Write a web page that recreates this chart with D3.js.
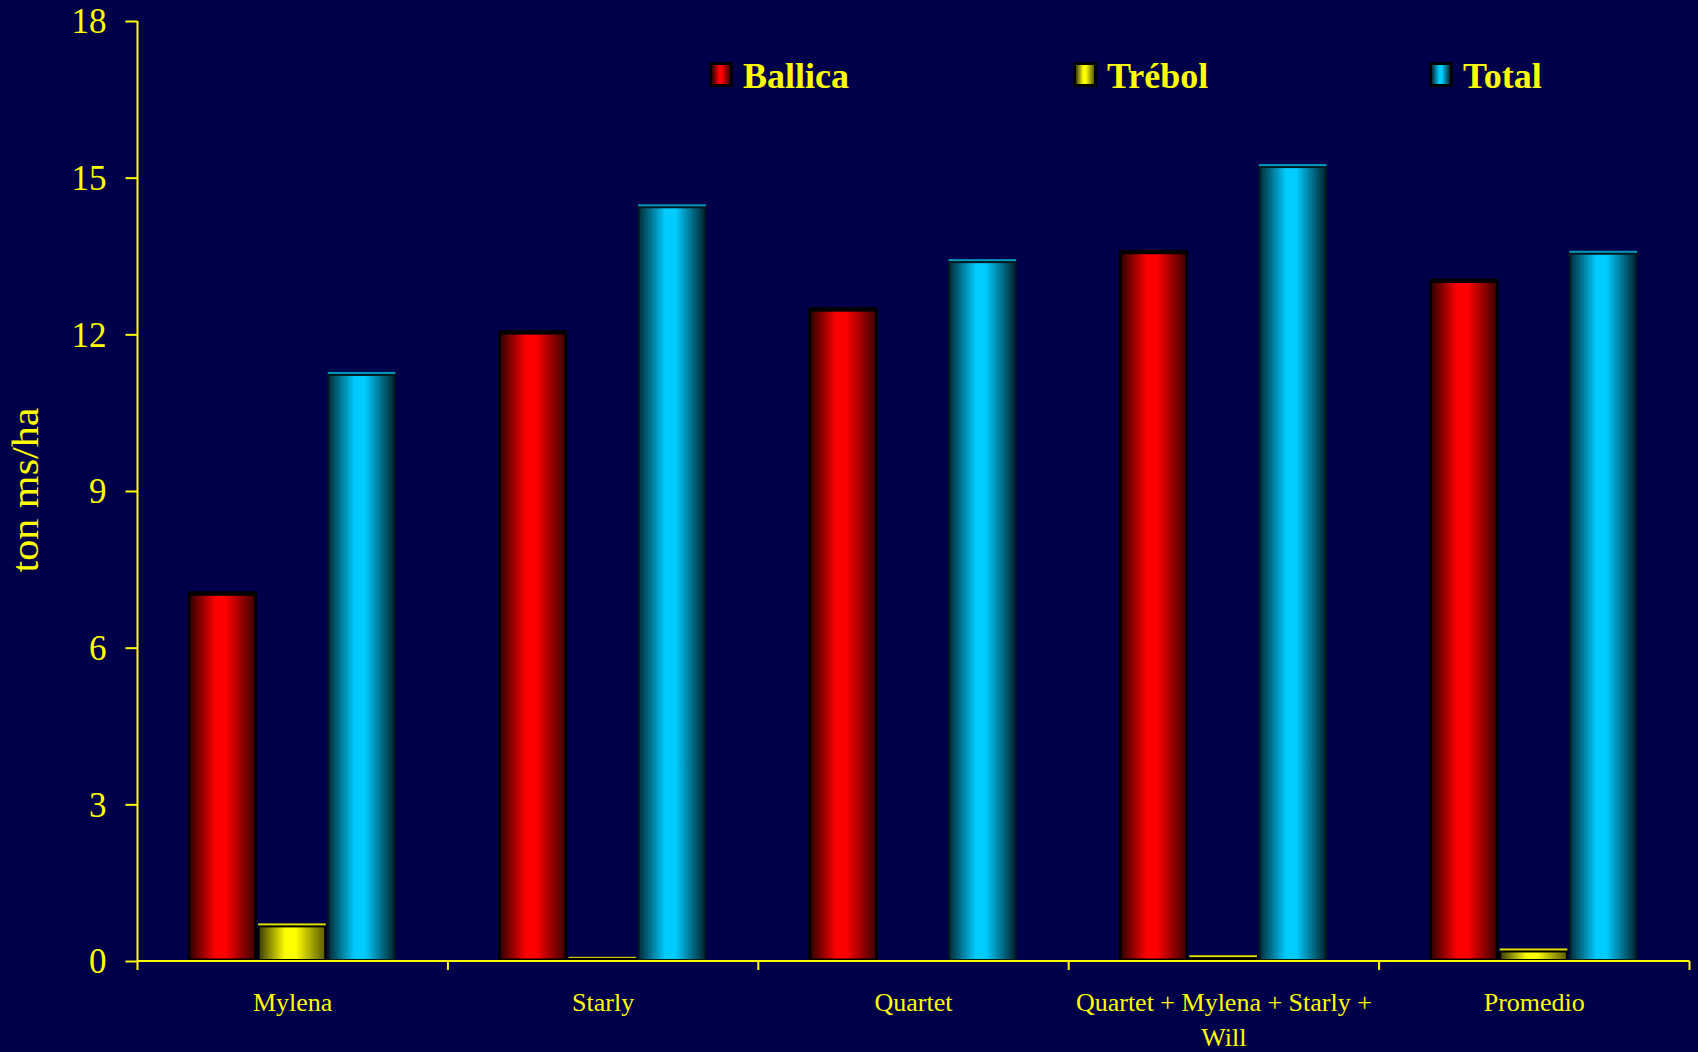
<!DOCTYPE html>
<html>
<head>
<meta charset="utf-8">
<script src="https://cdn.jsdelivr.net/npm/d3@7/dist/d3.min.js"></script>
<style>
  html, body { margin: 0; padding: 0; background: #00004a; }
  svg { display: block; }
  text { font-family: "Liberation Serif", "Times New Roman", serif; fill: #ffff00; }
</style>
</head>
<body>
<svg id="chart" width="1698" height="1052"></svg>
<script>
// ---- data ----
const categories = ["Mylena", "Starly", "Quartet", "Quartet + Mylena + Starly + Will", "Promedio"];
const seriesNames = ["Ballica", "Trébol", "Total"];
const ballica = [7.08, 12.08, 12.52, 13.62, 13.07];
const trebol  = [0.72, 0.08, 0.0, 0.11, 0.24];
const total   = [11.28, 14.49, 13.44, 15.26, 13.60];
const yTicks = [0, 3, 6, 9, 12, 15, 18];
const yLabel = "ton ms/ha";

const seriesValues = [ballica, trebol, total];
const palette = {
  "Ballica": { edgeL: "#2a0000", mid: "#ff0000", edgeR: "#3a0000", top: "#000000", stroke: "#000000" },
  "Trébol":  { edgeL: "#3a3a00", mid: "#ffff00", edgeR: "#5a5a00", top: "#e0e000", stroke: "#000000" },
  "Total":   { edgeL: "#002a38", mid: "#00ccff", edgeR: "#00222c", top: "#0099bb", stroke: "#001820" }
};

const svg = d3.select("#chart");
const W = 1698, H = 1052;
const margin = { left: 137.5, right: 8.5, top: 21, bottom: 91 };
const x0 = d3.scaleBand().domain(categories).range([margin.left, W - margin.right]).paddingInner(0).paddingOuter(0);
const bw = x0.bandwidth();
const x1 = d3.scaleBand().domain(seriesNames).range([bw * 0.161, bw * 0.834]).padding(0);
const y = d3.scaleLinear().domain([0, 18]).range([H - margin.bottom, margin.top]);

// gradients
const defs = svg.append("defs");
seriesNames.forEach((s, i) => {
  const p = palette[s];
  const g = defs.append("linearGradient").attr("id", "grad" + i)
    .attr("x1", "0%").attr("x2", "100%").attr("y1", "0%").attr("y2", "0%");
  g.append("stop").attr("offset", "0%").attr("stop-color", p.edgeL);
  g.append("stop").attr("offset", "40%").attr("stop-color", p.mid);
  g.append("stop").attr("offset", "55%").attr("stop-color", p.mid);
  g.append("stop").attr("offset", "100%").attr("stop-color", p.edgeR);
});

// bars
const rows = [];
categories.forEach((c, ci) => {
  seriesNames.forEach((s, si) => {
    rows.push({ cat: c, series: s, si: si, value: seriesValues[si][ci] });
  });
});

const barG = svg.append("g");
rows.filter(d => d.value > 0).forEach(d => {
  const p = palette[d.series];
  const bx = x0(d.cat) + x1(d.series);
  const w = x1.bandwidth();
  const yTop = y(d.value);
  const y0 = y(0);
  const faceH = Math.min(3, (y0 - yTop) / 2);
  // top face
  barG.append("rect")
    .attr("x", bx + 1).attr("y", yTop)
    .attr("width", w - 2).attr("height", faceH)
    .attr("fill", p.top);
  // front face
  barG.append("rect")
    .attr("x", bx + 1.5).attr("y", yTop + faceH)
    .attr("width", w - 3).attr("height", Math.max(0, y0 - yTop - faceH - 1))
    .attr("fill", "url(#grad" + d.si + ")")
    .attr("stroke", p.stroke).attr("stroke-width", d.series === "Ballica" ? 3 : 2);
});

// y axis
const yAxis = d3.axisLeft(y).tickValues(yTicks).tickSize(12).tickPadding(19).tickSizeOuter(0);
const gy = svg.append("g").attr("transform", `translate(${margin.left},0)`).call(yAxis);
gy.select(".domain").remove();
gy.append("line").attr("x1", 0).attr("x2", 0).attr("y1", y(18)).attr("y2", y(0) + 9)
  .attr("stroke", "#ffff00").attr("stroke-width", 2);
gy.selectAll(".tick line").attr("stroke", "#ffff00").attr("stroke-width", 2);
gy.selectAll(".tick text").attr("fill", "#ffff00").style("font-size", "35px")
  .style("font-family", "'Liberation Serif', serif").attr("dy", "0.34em");

// x axis
const xBase = y(0);
svg.append("line").attr("x1", margin.left).attr("x2", W - margin.right)
  .attr("y1", xBase).attr("y2", xBase).attr("stroke", "#ffff00").attr("stroke-width", 2);
const boundaries = categories.map(c => x0(c) + bw).concat([]);
svg.append("g").selectAll("line").data(boundaries).join("line")
  .attr("x1", d => d).attr("x2", d => d).attr("y1", xBase).attr("y2", xBase + 9)
  .attr("stroke", "#ffff00").attr("stroke-width", 2);

// category labels with wrapping
const labG = svg.append("g");
categories.forEach(c => {
  const t = labG.append("text").attr("x", x0(c) + bw / 2).attr("y", 1011)
    .attr("text-anchor", "middle").style("font-size", "26px");
  const words = c.split(" ");
  let line = [];
  let tspan = t.append("tspan").attr("x", x0(c) + bw / 2).attr("dy", 0);
  let lineNo = 0;
  words.forEach(wd => {
    line.push(wd);
    tspan.text(line.join(" "));
    if (tspan.node().getComputedTextLength() > 305 && line.length > 1) {
      line.pop();
      tspan.text(line.join(" "));
      line = [wd];
      lineNo++;
      tspan = t.append("tspan").attr("x", x0(c) + bw / 2).attr("dy", 35).text(wd);
    }
  });
});

// y label
svg.append("text")
  .attr("transform", `translate(38,490) rotate(-90)`)
  .attr("text-anchor", "middle")
  .style("font-size", "38px")
  .attr("textLength", 165).attr("lengthAdjust", "spacingAndGlyphs")
  .text(yLabel);

// legend
const legendX = [709, 1073, 1429];
const lg = svg.append("g");
seriesNames.forEach((s, i) => {
  const g = lg.append("g").attr("transform", `translate(${legendX[i]},62)`);
  g.append("rect").attr("x", 0).attr("y", 0).attr("width", 24).attr("height", 25).attr("fill", "#000000");
  g.append("rect").attr("x", 3).attr("y", 3).attr("width", 18).attr("height", 19).attr("fill", "url(#grad" + i + ")");
  g.append("text").attr("x", 34).attr("y", 26).style("font-size", "36px").style("font-weight", "bold").text(s);
});
</script>
</body>
</html>
